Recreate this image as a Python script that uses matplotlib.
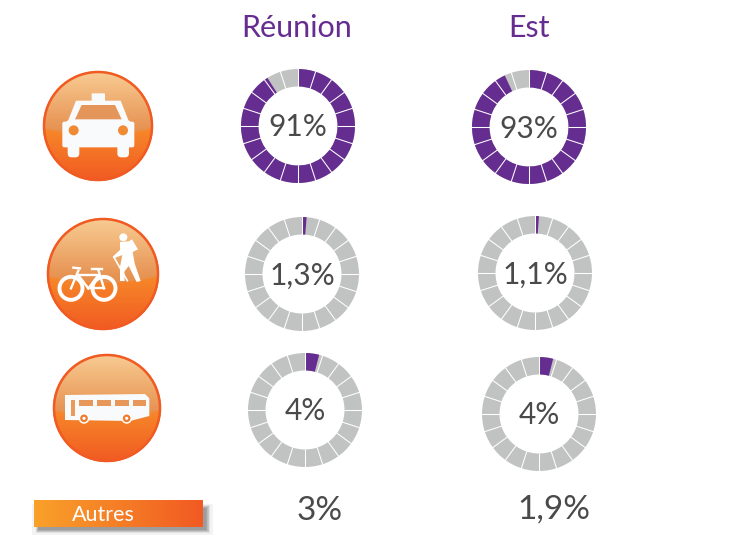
import numpy as np
import matplotlib
matplotlib.use("Agg")
import matplotlib.pyplot as plt
from matplotlib.patches import Wedge, Circle, Rectangle, Polygon, FancyBboxPatch

plt.rcParams['font.family'] = ['Lato', 'DejaVu Sans']

zones = ['Réunion', 'Est']
voiture = [91, 93]
doux = [1.3, 1.1]
bus = [4, 4]
autres = [3, 1.9]
autres_label = 'Autres'

PURPLE = '#662d91'
GREY = '#c1c3c2'
TEXT = '#4a4a4a'
ORANGE = '#f15a22'
N_SEG = 20


def pct(v):
    return str(v).replace('.', ',') + '%'


def hex2rgb(c):
    return np.array(matplotlib.colors.to_rgb(c))


def donut(ax, cx, cy, value, r=57, r_in=39.5):
    # y axis is inverted, so angles run clockwise from the top with -90 offset
    ax.add_patch(Wedge((cx, cy), r, 0, 360, width=r - r_in, fc=GREY, ec='none', zorder=2))
    a = value / 100 * 360
    ax.add_patch(Wedge((cx, cy), r, -90, -90 + a, width=r - r_in, fc=PURPLE, ec='none', zorder=3))
    for k in range(N_SEG):
        t = np.deg2rad(k * 360 / N_SEG)
        ax.plot([cx + (r_in - 1) * np.sin(t), cx + (r + 1) * np.sin(t)],
                [cy - (r_in - 1) * np.cos(t), cy - (r + 1) * np.cos(t)],
                color='white', lw=0.75, zorder=4, solid_capstyle='butt')
    ax.text(cx, cy + 1.5, pct(value), ha='center', va='center', fontsize=21.5, color=TEXT, zorder=5)


def badge(ax, cx, cy, r):
    n = 220
    xs, ys = np.meshgrid(np.linspace(-1, 1, n), np.linspace(-1, 1, n))
    edge = 0.04 + 0.12 * (1 - xs ** 2)
    img = np.zeros((n, n, 3))
    low = np.clip(ys / 1.0, 0, 1)[..., None]
    img[:] = hex2rgb('#f78a2a') * (1 - low) + hex2rgb('#f15a22') * low
    up = np.clip((ys + 1) / 1.1, 0, 1)[..., None]
    gloss = hex2rgb('#f8cc93') * (1 - up) + hex2rgb('#e6904f') * up
    img = np.where((ys < edge)[..., None], gloss, img)
    im = ax.imshow(img, extent=(cx - r, cx + r, cy + r, cy - r), origin='upper',
                   aspect='auto', zorder=2, interpolation='bilinear')
    clip = Circle((cx, cy), r, transform=ax.transData)
    im.set_clip_path(clip)
    ax.add_patch(Circle((cx, cy), r - 1, fc='none', ec=ORANGE, lw=1.8, zorder=3))


def taxi(ax):
    fx = lambda v: 20 + v / 3
    fy = lambda v: 60 + v / 3
    w = '#f9fafc'
    def box(x0, y0, x1, y1, c=w, pad=2):
        ax.add_patch(FancyBboxPatch((fx(x0) + pad, fy(y0) + pad), (x1 - x0) / 3 - 2 * pad, (y1 - y0) / 3 - 2 * pad,
                                    boxstyle='round,pad=%g' % pad, fc=c, ec='none', zorder=5))
    box(215, 100, 255, 125, pad=1)
    ax.add_patch(Polygon([(fx(168), fy(122)), (fx(302), fy(122)), (fx(325), fy(180)), (fx(343), fy(195)),
                          (fx(127), fy(195)), (fx(145), fy(180))], fc=w, ec='none', zorder=5))
    box(127, 185, 343, 262, pad=2)
    box(143, 250, 178, 292, pad=4)
    box(292, 250, 327, 292, pad=4)
    ax.add_patch(Polygon([(fx(185), fy(135)), (fx(285), fy(135)), (fx(305), fy(178)), (fx(165), fy(178))],
                         fc='#e4955a', ec='none', zorder=6))
    for x in (161, 309):
        ax.add_patch(Circle((fx(x), fy(211)), 5, fc='#f08a35', ec='none', zorder=6))


def velo(ax):
    fx = lambda v: 30 + v / 3
    fy = lambda v: 200 + v / 3
    for x in (123, 222):
        ax.add_patch(Circle((fx(x), fy(265)), 11.5, fc='none', ec='white', lw=2.8, zorder=5))
    segs = [[(123, 265), (145, 212)], [(145, 226), (205, 226)], [(205, 210), (222, 265)],
            [(175, 265), (205, 226)], [(175, 265), (145, 226)], [(175, 265), (222, 265)],
            [(130, 203), (150, 205)], [(185, 208), (216, 208)]]
    for s in segs:
        ax.plot([fx(s[0][0]), fx(s[1][0])], [fy(s[0][1]), fy(s[1][1])], color='white', lw=1.7, zorder=5)
    # randonneur
    ax.add_patch(Circle((fx(280), fy(112)), 4, fc='white', ec='none', zorder=5))
    body = [(270, 126), (296, 124), (306, 118), (324, 148), (308, 156), (314, 190), (332, 243), (320, 246),
            (296, 198), (283, 215), (284, 243), (270, 243), (270, 200), (277, 165), (252, 175), (248, 170), (270, 150)]
    ax.add_patch(Polygon([(fx(a), fy(b)) for a, b in body], fc='white', ec='none', zorder=5))
    ax.plot([fx(252), fx(292)], [fy(172), fy(242)], color='white', lw=1.2, zorder=5)


def autobus(ax):
    fx = lambda v: 20 + v / 3
    fy = lambda v: 340 + v / 3
    w = '#f9fafc'
    body = [(135, 165), (375, 162), (388, 175), (388, 228), (330, 243), (135, 240)]
    ax.add_patch(Polygon([(fx(a), fy(b)) for a, b in body], fc=w, ec='none', zorder=5))
    for x0, x1 in [(178, 220), (232, 273), (285, 327), (338, 378)]:
        ax.add_patch(Rectangle((fx(x0), fy(180)), (x1 - x0) / 3, 17 / 3, fc='#e8975a', ec='none', zorder=6))
    ax.add_patch(Rectangle((fx(152), fy(180)), 13 / 3, 48 / 3, fc='#ec9a5c', ec='none', zorder=6))
    for x in (192, 320):
        ax.add_patch(Circle((fx(x), fy(235)), 4.6, fc='#f07a2c', ec='white', lw=1.1, zorder=6))
        ax.add_patch(Circle((fx(x), fy(235)), 1.6, fc='white', ec='none', zorder=7))


fig = plt.figure(figsize=(7.42, 5.41), dpi=100)
ax = fig.add_axes([0, 0, 1, 1])

# colonnes
title_x = [297, 529]
for t, x in zip(zones, title_x):
    ax.text(x, 28, t, ha='center', va='center', fontsize=22, color=PURPLE)

donut_pos = [[(298, 126), (529, 127)], [(302, 274), (535, 273)], [(305, 410), (539, 414)]]
for vals, pos in zip([voiture, doux, bus], donut_pos):
    for v, (cx, cy) in zip(vals, pos):
        donut(ax, cx, cy, v)

badge(ax, 98, 126, 55)
badge(ax, 103, 274, 56)
badge(ax, 107, 408, 54)
taxi(ax)
velo(ax)
autobus(ax)

# bandeau Autres
ax.add_patch(Rectangle((32, 504), 181, 31, fc='#f3f3f3', ec='none', zorder=1))
for i in range(7):
    ax.add_patch(Rectangle((36 + i * 0.4, 505 + i * 0.5), 174 - i * 1.1, 27.5 - i, fc='#555555', alpha=0.1, ec='none', zorder=2))
band = np.linspace(0, 1, 200)[None, :, None]
img = hex2rgb('#f9a12a')[None, None, :] * (1 - band) + hex2rgb(ORANGE)[None, None, :] * band
ax.imshow(img, extent=(34, 203, 527, 500), origin='upper', aspect='auto', zorder=3)
ax.text(103, 515, autres_label, ha='center', va='center', fontsize=15.5, color='white', zorder=4)

autres_x = [320, 554]
autres_y = [511, 510]
for v, x, y in zip(autres, autres_x, autres_y):
    ax.text(x, y, pct(v), ha='center', va='center', fontsize=24, color=TEXT)

ax.set_xlim(0, 742)
ax.set_ylim(541, 0)
ax.axis('off')
fig.savefig('out.png', dpi=100)
